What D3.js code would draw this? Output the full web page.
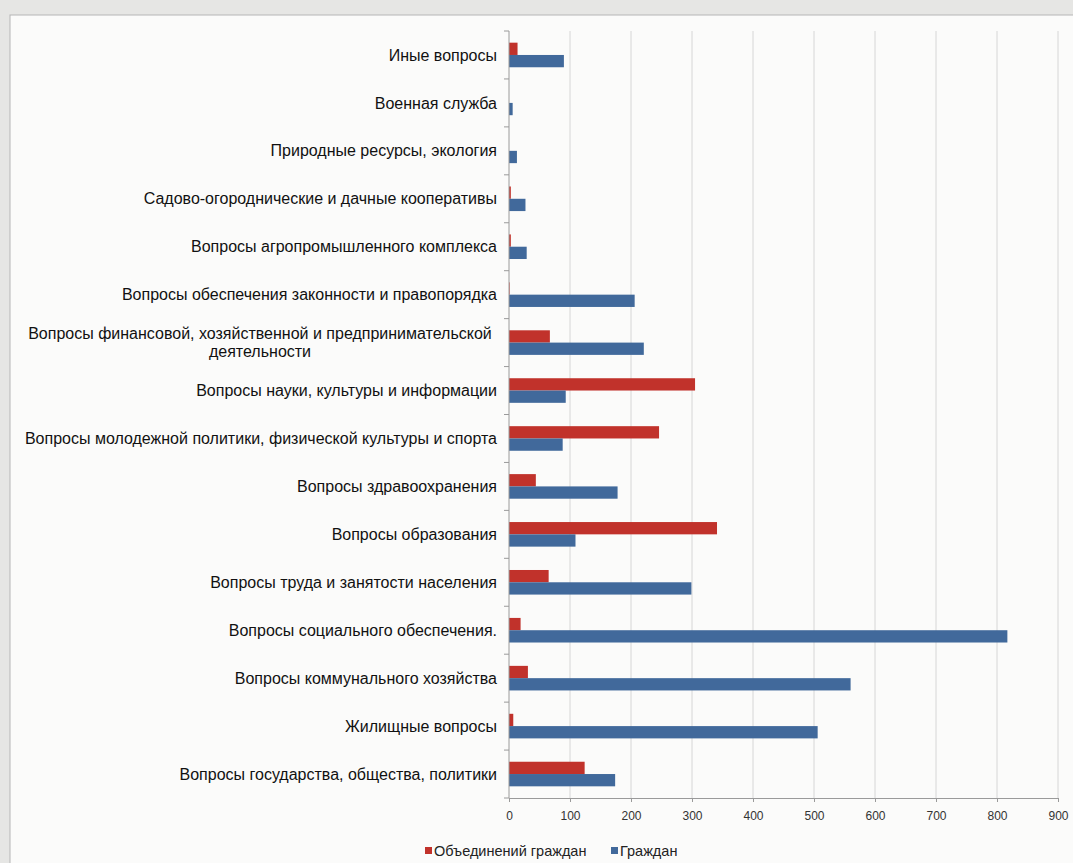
<!DOCTYPE html>
<html>
<head>
<meta charset="utf-8">
<script src="https://cdn.jsdelivr.net/npm/d3@7"></script>
<style>
body{margin:0;background:#e6e6e4;}
svg{display:block;font-family:"Liberation Sans",Arial,sans-serif;}
.grid line{stroke:#d6d6d6;}
.cat{font-size:16px;fill:#111;}
.tick text{font-size:12px;fill:#333;}
</style>
</head>
<body>
<script>
// categories from top to bottom, as in the picture
var categories=["Иные вопросы","Военная служба","Природные ресурсы, экология",
	"Садово-огороднические и дачные кооперативы","Вопросы агропромышленного комплекса",
	"Вопросы обеспечения законности и правопорядка",
	"Вопросы финансовой, хозяйственной и предпринимательской|деятельности",
	"Вопросы науки, культуры и информации",
	"Вопросы молодежной политики, физической культуры и спорта",
	"Вопросы здравоохранения","Вопросы образования","Вопросы труда и занятости населения",
	"Вопросы социального обеспечения.","Вопросы коммунального хозяйства","Жилищные вопросы",
	"Вопросы государства, общества, политики"];
var unions=[14,0,0,3,3,1,67,305,246,44,341,65,19,31,7,124];
var citizens=[90,6,13,27,29,206,221,93,88,178,109,299,817,560,506,174];
var seriesNames=["Объединений граждан","Граждан"];
var xTicks=[0,100,200,300,400,500,600,700,800,900];
var colors=["#c1322b","#41699b"];

var width=1073, height=863;
var plotLeft=509, plotRight=1058, plotTop=31, plotBottom=798;

var svg=d3.select("body").append("svg").attr("width",width).attr("height",height);

svg.append("rect").attr("x",10).attr("y",15).attr("width",width).attr("height",height)
	.attr("fill","#fbfbfa").attr("stroke","#b5b5b5");

var x=d3.scaleLinear().domain([0,900]).range([plotLeft,plotRight]);
var y=d3.scaleBand().domain(categories).range([plotTop,plotBottom]);
var sub=d3.scaleBand().domain([0,1]).range([0,y.bandwidth()]).paddingInner(0).paddingOuter(0.95);

svg.append("g").attr("class","grid").selectAll("line").data(xTicks.slice(1)).enter()
	.append("line").attr("x1",function(d){return x(d);}).attr("x2",function(d){return x(d);})
	.attr("y1",plotTop).attr("y2",plotBottom);

var rows=categories.map(function(c,i){return {cat:c,vals:[unions[i],citizens[i]]};});

var g=svg.append("g").selectAll("g").data(rows).enter().append("g")
	.attr("transform",function(d){return "translate(0,"+y(d.cat)+")";});

g.selectAll("rect").data(function(d){return d.vals;}).enter().append("rect")
	.attr("x",x(0)).attr("y",function(d,i){return sub(i);})
	.attr("width",function(d){return x(d)-x(0);})
	.attr("height",sub.bandwidth())
	.attr("fill",function(d,i){return colors[i];});

// category labels, multi-line ones are centered in their block
g.each(function(d){
	var lines=d.cat.split("|");
	var t=d3.select(this).append("text").attr("class","cat")
		.attr("y",y.bandwidth()/2).attr("dy","0.35em");
	if (lines.length==1) {
		t.attr("x",497).attr("text-anchor","end").text(lines[0]);
	} else {
		t.attr("text-anchor","middle").attr("x",260);
		lines.forEach(function(l,k){
			t.append("tspan").attr("x",260).attr("dy",k==0?"-0.2em":"1.1em").text(l);
		});
	}
});

// axes
var xAxis=svg.append("g").attr("transform","translate(0,"+plotBottom+")")
	.call(d3.axisBottom(x).tickValues(xTicks).tickSize(4).tickPadding(9));
xAxis.select(".domain").attr("stroke","#9a9a9a");
xAxis.selectAll(".tick line").attr("stroke","#9a9a9a");

var yAx=svg.append("g");
yAx.append("line").attr("x1",plotLeft).attr("x2",plotLeft).attr("y1",plotTop).attr("y2",plotBottom).attr("stroke","#9a9a9a");
yAx.selectAll(".yt").data(d3.range(categories.length+1)).enter().append("line")
	.attr("x1",plotLeft-5).attr("x2",plotLeft)
	.attr("y1",function(i){return plotTop+i*y.step();}).attr("y2",function(i){return plotTop+i*y.step();})
	.attr("stroke","#9a9a9a");

// legend
var legend=svg.append("g").attr("transform","translate(425,851)");
var lx=[0,186];
seriesNames.forEach(function(n,i){
	legend.append("rect").attr("x",lx[i]).attr("y",-4).attr("width",7).attr("height",7).attr("fill",colors[i]);
	legend.append("text").attr("x",lx[i]+9).attr("y",0).attr("dy","0.35em")
		.style("font-size","14.5px").attr("fill","#222").text(n);
});
</script>
</body>
</html>
